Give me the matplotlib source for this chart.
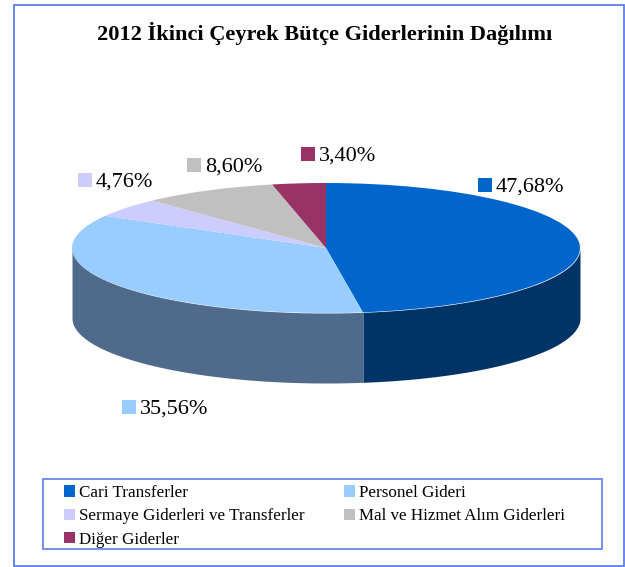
"""
2012 ikinci ceyrek butce giderleri, pasta grafik (3D gorunumlu).
"""
import numpy as np
import matplotlib.pyplot as plt
from matplotlib.patches import Rectangle

plt.rcParams['font.family'] = ['Liberation Serif', 'DejaVu Serif']

title = "2012 İkinci Çeyrek Bütçe Giderlerinin Dağılımı"
categories = ["Cari Transferler", "Personel Gideri", "Sermaye Giderleri ve Transferler",
              "Mal ve Hizmet Alım Giderleri", "Diğer Giderler"]
values = [47.68, 35.56, 4.76, 8.60, 3.40]
value_labels = ["47,68%", "35,56%", "4,76%", "8,60%", "3,40%"]
colors = ["#0066CC", "#99CCFF", "#CCCCFF", "#C0C0C0", "#993366"]
side_colors = ["#003366", "#4F6A8A", "#8E8EB2", "#868686", "#6B2447"]

# Dimensioni in pixel
W, H = 625, 567
cx, cy, rx, ry, depth = 326, 248, 254, 65, 70

fig = plt.figure(figsize=(W / 100, H / 100), dpi=100)
ax = fig.add_axes([0, 0, 1, 1])


def px(x, y):
    return (x - cx) / rx, (cy - y) / ry


# Parete laterale del cilindro, solo la meta davanti
d = depth / ry
edges = 90 - np.cumsum([0] + values) * 3.6
for i in range(len(values)):
    a0, a1 = edges[i], edges[i + 1]
    t = np.radians(np.linspace(a0, a1, 200))
    t = t[np.sin(t) <= 0]
    if len(t) == 0:
        continue
    ax.fill_between(np.cos(t), np.sin(t), np.sin(t) - d, color=side_colors[i], lw=0, zorder=1)

wedges, _ = ax.pie(values, colors=colors, startangle=90, counterclock=False,
                   radius=1, wedgeprops={"zorder": 2, "linewidth": 0})
ax.set_aspect('auto')
ax.set_xlim(px(0, 0)[0], px(W, 0)[0])
ax.set_ylim(px(0, H)[1], px(0, 0)[1])
ax.axis('off')

# Cornice esterna e cornice della legenda
fig.add_artist(Rectangle((14 / W, 1 - 566 / H), 609.5 / W, 561 / H, transform=fig.transFigure,
                         fill=False, ec="#5B7FEA", lw=1.3))
fig.add_artist(Rectangle((43 / W, 1 - 549 / H), 559 / W, 70 / H, transform=fig.transFigure,
                         fill=False, ec="#5B7FEA", lw=1.2))

fig.text(324.5 / W, 1 - 33.5 / H, title, ha='center', va='center', fontsize=16.1, fontweight='bold')

# Etichette con il quadratino del colore
label_pos = [(478, 185), (122, 407), (78, 180), (187, 165), (301, 154)]
for i, (x, y) in enumerate(label_pos):
    fig.add_artist(Rectangle((x / W, 1 - (y + 7) / H), 14 / W, 14 / H, transform=fig.transFigure,
                             fc=colors[i], ec='none'))
    fig.text((x + 18) / W, 1 - y / H, value_labels[i], ha='left', va='center_baseline', fontsize=16)

# Legenda su due colonne: matplotlib riempie per colonna
order = [0, 2, 4, 1, 3]
leg = fig.legend([wedges[i] for i in order], [categories[i] for i in order], ncol=2,
                 loc='upper left', bbox_to_anchor=(64 / W, 1 - 485 / H),
                 fontsize=12.25, frameon=False, handlelength=0.65, handleheight=0.65,
                 handletextpad=0.24, labelspacing=0.43, borderaxespad=0, borderpad=0,
                 columnspacing=2.3)

fig.savefig("out.png", dpi=100)
